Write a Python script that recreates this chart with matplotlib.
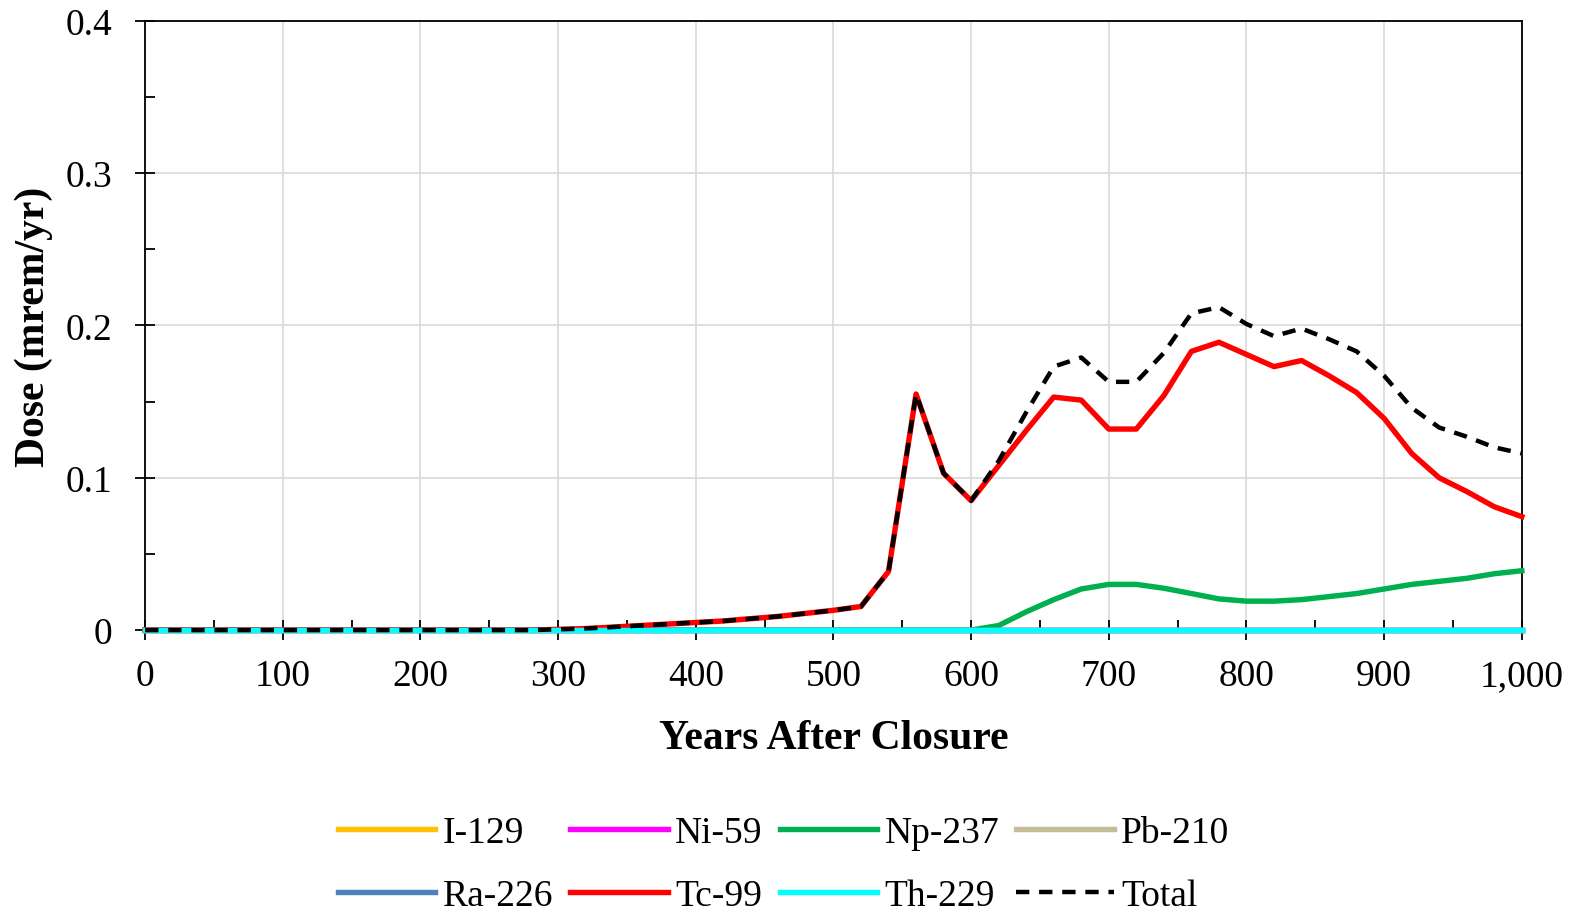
import matplotlib
matplotlib.use('Agg')
import matplotlib.pyplot as plt
from matplotlib.ticker import MultipleLocator, FuncFormatter

plt.rcParams['font.family'] = ['Liberation Serif', 'DejaVu Serif']

# Years after closure (20-yr output steps)
years = [0, 20, 40, 60, 80, 100, 120, 140, 160, 180, 200, 220, 240, 260, 280,
         300, 320, 340, 360, 380, 400, 420, 440, 460, 480, 500, 520, 540, 560, 580,
         600, 620, 640, 660, 680, 700, 720, 740, 760, 780, 800, 820, 840, 860, 880,
         900, 920, 940, 960, 980, 1000]

zeros = [0.0] * len(years)
i129 = zeros
ni59 = zeros
pb210 = zeros
ra226 = zeros
th229 = zeros

tc99 = [0, 0, 0, 0, 0, 0, 0, 0, 0, 0, 0, 0, 0, 0, 0,
        0.0005, 0.001, 0.002, 0.003, 0.004, 0.005, 0.006, 0.0075, 0.009, 0.011,
        0.013, 0.0155, 0.0385, 0.155, 0.103, 0.085, 0.108, 0.131, 0.153, 0.151,
        0.132, 0.132, 0.154, 0.183, 0.189, 0.181, 0.173, 0.177, 0.167, 0.156,
        0.139, 0.116, 0.100, 0.091, 0.081, 0.0745]

np237 = [0] * 31 + [0.003, 0.012, 0.020, 0.027, 0.030, 0.030, 0.0275, 0.024, 0.0205,
                    0.019, 0.019, 0.020, 0.022, 0.024, 0.027, 0.030, 0.032, 0.034,
                    0.037, 0.039]

total = [0, 0, 0, 0, 0, 0, 0, 0, 0, 0, 0, 0, 0, 0, 0,
         0.0005, 0.001, 0.002, 0.003, 0.004, 0.005, 0.006, 0.0075, 0.009, 0.011,
         0.013, 0.0155, 0.0385, 0.155, 0.103, 0.085, 0.111, 0.143, 0.173, 0.179,
         0.163, 0.163, 0.182, 0.208, 0.212, 0.201, 0.193, 0.198, 0.191, 0.183,
         0.167, 0.146, 0.133, 0.127, 0.120, 0.116]

fig = plt.figure(figsize=(15.77, 9.12), dpi=100)
ax = fig.add_axes([0.092, 0.308, 0.873, 0.668])

lw = 3.9
series = [('I-129', i129, '#FFC000'), ('Ni-59', ni59, '#FF00FF'),
          ('Np-237', np237, '#00B050'), ('Pb-210', pb210, '#C4BD97'),
          ('Ra-226', ra226, '#4F81BD'), ('Tc-99', tc99, '#FF0000'),
          ('Th-229', th229, '#00FFFF')]
h = {}
for name, vals, col in series:
    h[name], = ax.plot(years, vals, color=col, lw=lw, label=name, clip_on=False, zorder=3)
h['Total'], = ax.plot(years, total, color='black', lw=3.2, dashes=(3, 2.2), label='Total',
                      clip_on=False, zorder=3)

ax.set_xlim(0, 1000)
ax.set_ylim(0, 0.4)
ax.xaxis.set_major_locator(MultipleLocator(100))
ax.xaxis.set_minor_locator(MultipleLocator(50))
ax.yaxis.set_major_locator(MultipleLocator(0.1))
ax.yaxis.set_minor_locator(MultipleLocator(0.05))
ax.xaxis.set_major_formatter(FuncFormatter(lambda v, p: f"{v:,.0f}"))
ax.yaxis.set_major_formatter(FuncFormatter(lambda v, p: "0" if abs(v) < 1e-9 else f"{v:.1f}"))

ax.tick_params(which='major', direction='inout', length=15, width=1.3, labelsize=27)
ax.tick_params(axis='x', which='major', pad=13)
ax.tick_params(axis='y', which='major', pad=16)
ax.tick_params(which='minor', direction='in', length=7, width=1.3)
ax.grid(True, which='major', color='#d9d9d9', lw=1.2)
ax.set_axisbelow(True)
for s in ax.spines.values():
    s.set_linewidth(1.3)
    s.set_color('black')

ax.set_xlabel('Years After Closure', fontsize=30, fontweight='bold', labelpad=19)
ax.set_ylabel('Dose (mrem/yr)', fontsize=30, fontweight='bold', labelpad=9)

# legend rows: I-129 Ni-59 Np-237 Pb-210 / Ra-226 Tc-99 Th-229 Total
order = ['I-129', 'Ra-226', 'Ni-59', 'Tc-99', 'Np-237', 'Th-229', 'Pb-210', 'Total']
fig.legend([h[k] for k in order], order, ncol=4, loc='center',
           bbox_to_anchor=(0.497, 0.051), frameon=False, fontsize=27,
           handlelength=2.6, handletextpad=0.2, columnspacing=0.45, labelspacing=0.75)

fig.savefig('out.png', dpi=100)
